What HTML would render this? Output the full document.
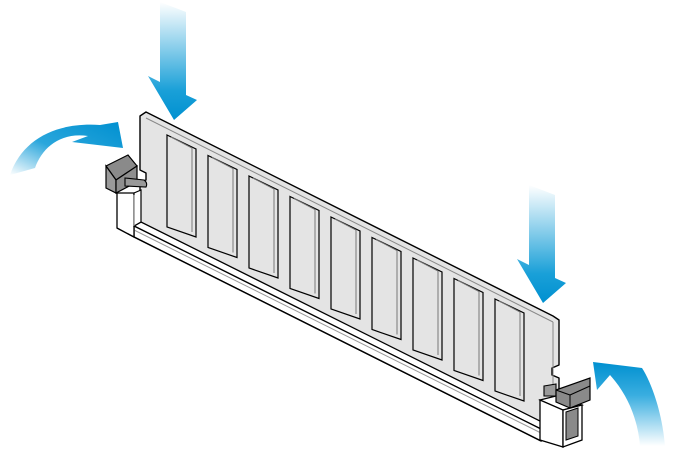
<!DOCTYPE html>
<html><head><meta charset="utf-8"><style>html,body{margin:0;padding:0;background:#fff}svg{display:block}</style></head>
<body>
<svg width="680" height="466" viewBox="0 0 680 466" xmlns="http://www.w3.org/2000/svg">
<defs>
<linearGradient id="gv" x1="0" y1="0" x2="0" y2="1">
<stop offset="0" stop-color="#fff"/><stop offset="0.75" stop-color="#1aa0d8"/><stop offset="1" stop-color="#0090d0"/></linearGradient>
<linearGradient id="gl" x1="0" y1="1" x2="1" y2="0">
<stop offset="0" stop-color="#fff"/><stop offset="0.45" stop-color="#2aa6dc"/><stop offset="1" stop-color="#0090d0"/></linearGradient>
<linearGradient id="gr" x1="0" y1="1" x2="0" y2="0">
<stop offset="0" stop-color="#fff"/><stop offset="0.6" stop-color="#3aaee0"/><stop offset="1" stop-color="#0090d0"/></linearGradient>
</defs>
<g id="va">
<polygon points="160,2 186,12 186,95 197,100 174,120 148,76 160,82" fill="url(#gv)"/>
</g>
<use href="#va" transform="translate(369,183)"/>
<path d="M10,175 C22,140 55,122 100,125 L118,122 L123,148 L72,142 L88,136 C60,132 42,148 35,168 Z" fill="url(#gl)"/>
<path d="M665,446 C662,410 650,380 642,368 L593,362 L597,390 L610,375 C628,395 638,420 640,446 Z" fill="url(#gr)"/>
<!-- board -->
<polygon points="140,116 146,112 553,316 559,320 559,365 552,368 552,375 559,378 559,436 140,228 140,182 146,180 146,173 140,170" fill="#e4e4e4" stroke="#000" stroke-width="1.4" stroke-linejoin="round"/>
<line x1="146" y1="118" x2="553" y2="322" stroke="#888" stroke-width="1"/>
<line x1="553" y1="322" x2="553" y2="400" stroke="#888" stroke-width="1"/>
<g fill="#e4e4e4" stroke="#000" stroke-width="1.2">
<g id="chip"><polygon points="167,135 196,149 196,237 167,227"/><polyline points="171,137 192,148 192,232" fill="none" stroke="#777" stroke-width="1"/></g>
<use href="#chip" transform="translate(41,20.5)"/>
<use href="#chip" transform="translate(82,41)"/>
<use href="#chip" transform="translate(123,61.5)"/>
<use href="#chip" transform="translate(164,82)"/>
<use href="#chip" transform="translate(205,102.5)"/>
<use href="#chip" transform="translate(246,123)"/>
<use href="#chip" transform="translate(287,143.5)"/>
<use href="#chip" transform="translate(328,164)"/>
</g>
<!-- slot rail -->
<polygon points="134,226 141,222 548,425 541,429" fill="#fff" stroke="#000" stroke-width="1.3"/>
<polygon points="134,226 541,429 541,441 134,237" fill="#fff" stroke="#000" stroke-width="1.3"/>
<line x1="134" y1="230" x2="541" y2="433" stroke="#999" stroke-width="1"/>
<polyline points="117,228 134,237 541,441" fill="none" stroke="#000" stroke-width="1.4"/>
<!-- left block -->
<polygon points="117,193 134,193 134,237 117,228" fill="#fff" stroke="#000" stroke-width="1.3"/>
<polygon points="134,193 141,190 141,222 134,226" fill="#fff" stroke="#000" stroke-width="1.2"/>
<line x1="134" y1="195" x2="134" y2="226" stroke="#999"/>
<!-- left latch -->
<polygon points="106,166 128,155 137,166 116,180" fill="#8a8a8a" stroke="#000" stroke-width="1.2"/>
<polygon points="106,166 116,180 116,193 106,188" fill="#9a9a9a" stroke="#000" stroke-width="1.2"/>
<polygon points="116,180 137,166 137,182 116,193" fill="#8f8f8f" stroke="#000" stroke-width="1.2"/>
<path d="M125,178 L144,180 Q148,183 146,187 L125,186 Z" fill="#999" stroke="#000" stroke-width="1.1"/>
<!-- right block -->
<polygon points="540,400 556,396 582,405 563,410" fill="#fff" stroke="#000" stroke-width="1.2"/>
<polygon points="540,400 563,410 563,447 540,440" fill="#fff" stroke="#000" stroke-width="1.3"/>
<polygon points="563,410 582,405 582,440 563,447" fill="#fff" stroke="#000" stroke-width="1.3"/>
<polygon points="566,412 578,408 578,436 566,440" fill="#8a8a8a" stroke="#000" stroke-width="1"/>
<!-- right latch -->
<polygon points="544,386 556,384 556,396 544,396" fill="#9a9a9a" stroke="#000" stroke-width="1.1"/>
<polygon points="556,390 590,378 590,400 570,408 556,402" fill="#8a8a8a" stroke="#000" stroke-width="1.2"/>
<line x1="556" y1="390" x2="570" y2="395" stroke="#000"/>
<line x1="570" y1="395" x2="570" y2="408" stroke="#000"/>
<line x1="570" y1="395" x2="590" y2="386" stroke="#000"/>
</svg>
</body></html>
